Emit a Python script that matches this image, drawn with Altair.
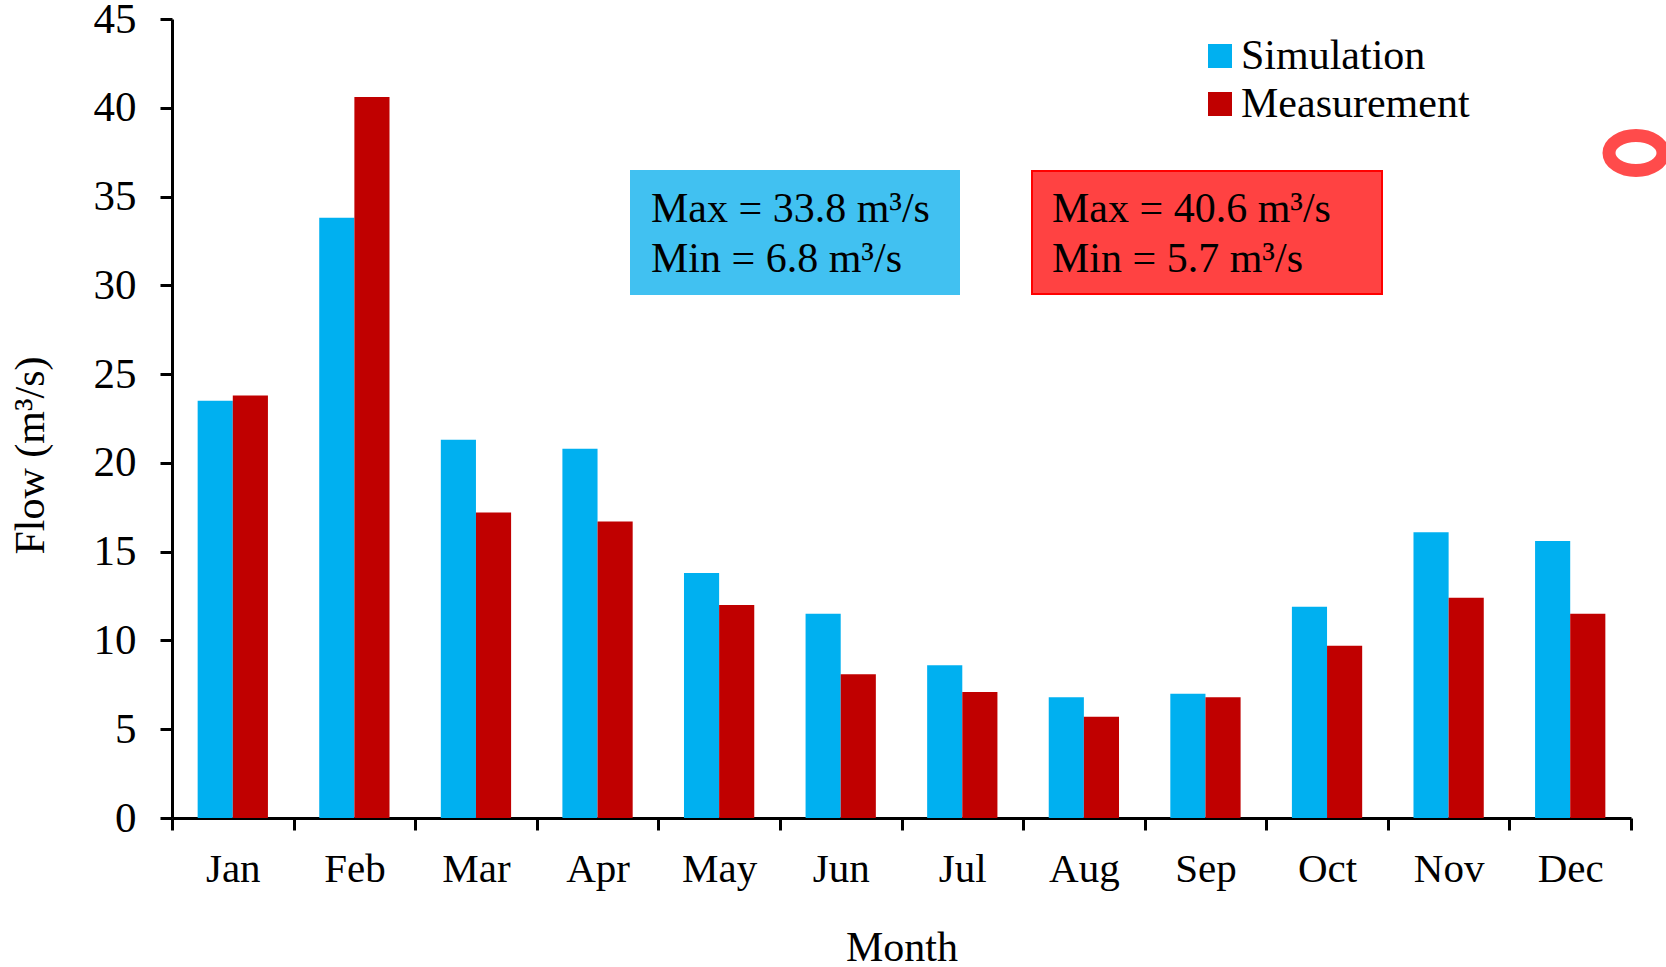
import altair as alt
import pandas as pd

# Monthly mean flow, simulated vs. measured (m³/s)
months = ["Jan", "Feb", "Mar", "Apr", "May", "Jun", "Jul", "Aug", "Sep", "Oct", "Nov", "Dec"]
simulation = [23.5, 33.8, 21.3, 20.8, 13.8, 11.5, 8.6, 6.8, 7.0, 11.9, 16.1, 15.6]
measurement = [23.8, 40.6, 17.2, 16.7, 12.0, 8.1, 7.1, 5.7, 6.8, 9.7, 12.4, 11.5]
series_names = ["Simulation", "Measurement"]
series_colors = ["#00B0F0", "#C00000"]
y_ticks = [0, 5, 10, 15, 20, 25, 30, 35, 40, 45]

FONT = "Liberation Serif"
W, H = 1459, 799

df = pd.DataFrame({
    "Month": months * 2,
    "Series": [series_names[0]] * len(months) + [series_names[1]] * len(months),
    "Flow": simulation + measurement,
})

bars = alt.Chart(df).mark_bar().encode(
    x=alt.X(
        "Month:N",
        sort=months,
        scale=alt.Scale(paddingInner=0, paddingOuter=0),
        axis=alt.Axis(
            title="Month",
            tickBand="extent",
            labelAngle=0,
            labelBaseline="alphabetic",
            labelPadding=51,
            labelFontSize=41,
            titleFontSize=42,
            titleBaseline="alphabetic",
            titleY=142,
        ),
    ),
    xOffset=alt.XOffset(
        "Series:N", sort=series_names,
        scale=alt.Scale(paddingInner=0, paddingOuter=0.73),
    ),
    y=alt.Y(
        "Flow:Q",
        scale=alt.Scale(domain=[0, 45], nice=False),
        axis=alt.Axis(
            values=y_ticks,
            title="Flow (m³/s)",
            labelFontSize=43,
            labelPadding=24,
            titleFontSize=42,
            titleAngle=270,
            titleAlign="center",
            titleBaseline="alphabetic",
            titleX=-129,
            titleY=436,
        ),
    ),
    color=alt.Color(
        "Series:N",
        sort=series_names,
        scale=alt.Scale(domain=series_names, range=series_colors),
        legend=alt.Legend(
            title=None,
            orient="none",
            legendX=1027,
            legendY=16,
            symbolType="square",
            symbolSize=576,
            symbolStrokeWidth=0,
            symbolOpacity=1,
            labelFont=FONT,
            labelFontSize=42,
            labelColor="black",
            labelLimit=600,
            labelOffset=0,
            rowPadding=6,
            padding=0,
        ),
    ),
)


def stat_box(values, x0, x1, fill, stroke, text_x):
    """Filled box listing the maximum and minimum of one series."""
    lines = [
        f"Max = {max(values):.1f} m³/s",
        f"Min = {min(values):.1f} m³/s",
    ]
    box = alt.Chart(pd.DataFrame({"k": [0]})).mark_rect(
        fill=fill, stroke=stroke, strokeWidth=2
    ).encode(
        x=alt.value(x0), x2=alt.value(x1), y=alt.value(152), y2=alt.value(275)
    )
    layers = [box]
    for line, base in zip(lines, [202.5, 252.5]):
        layers.append(
            alt.Chart(pd.DataFrame({"t": [line]})).mark_text(
                font=FONT, fontSize=42, color="black",
                align="left", baseline="alphabetic",
            ).encode(text="t:N", x=alt.value(text_x), y=alt.value(base))
        )
    return layers


sim_box = stat_box(simulation, 459, 787, "#41C1F1", "#41C1F1", 479)
meas_box = stat_box(measurement, 860, 1210, "#FF4242", "#FF0000", 880)

ring = alt.Chart(pd.DataFrame({"k": [0]})).mark_point(
    shape="M-1,0A1,0.648,0,1,0,1,0A1,0.648,0,1,0,-1,0Z",
    filled=False,
    stroke="#FF0000",
    strokeWidth=13,
    strokeOpacity=1,
    size=2916,
).encode(x=alt.value(1464), y=alt.value(134))

chart = alt.layer(bars, *sim_box, *meas_box, ring).properties(
    width=W,
    height=H,
    autosize=alt.AutoSizeParams(type="none"),
    padding={"left": 172, "top": 19, "right": 35, "bottom": 149},
    background="white",
).configure_view(
    strokeWidth=0
).configure_axis(
    labelFont=FONT,
    titleFont=FONT,
    labelColor="black",
    titleColor="black",
    titleFontWeight="normal",
    domainColor="black",
    domainWidth=3,
    tickColor="black",
    tickWidth=3,
    tickSize=12,
    grid=False,
)

chart.save("out.html", embed_options={"renderer": "svg", "actions": False})
